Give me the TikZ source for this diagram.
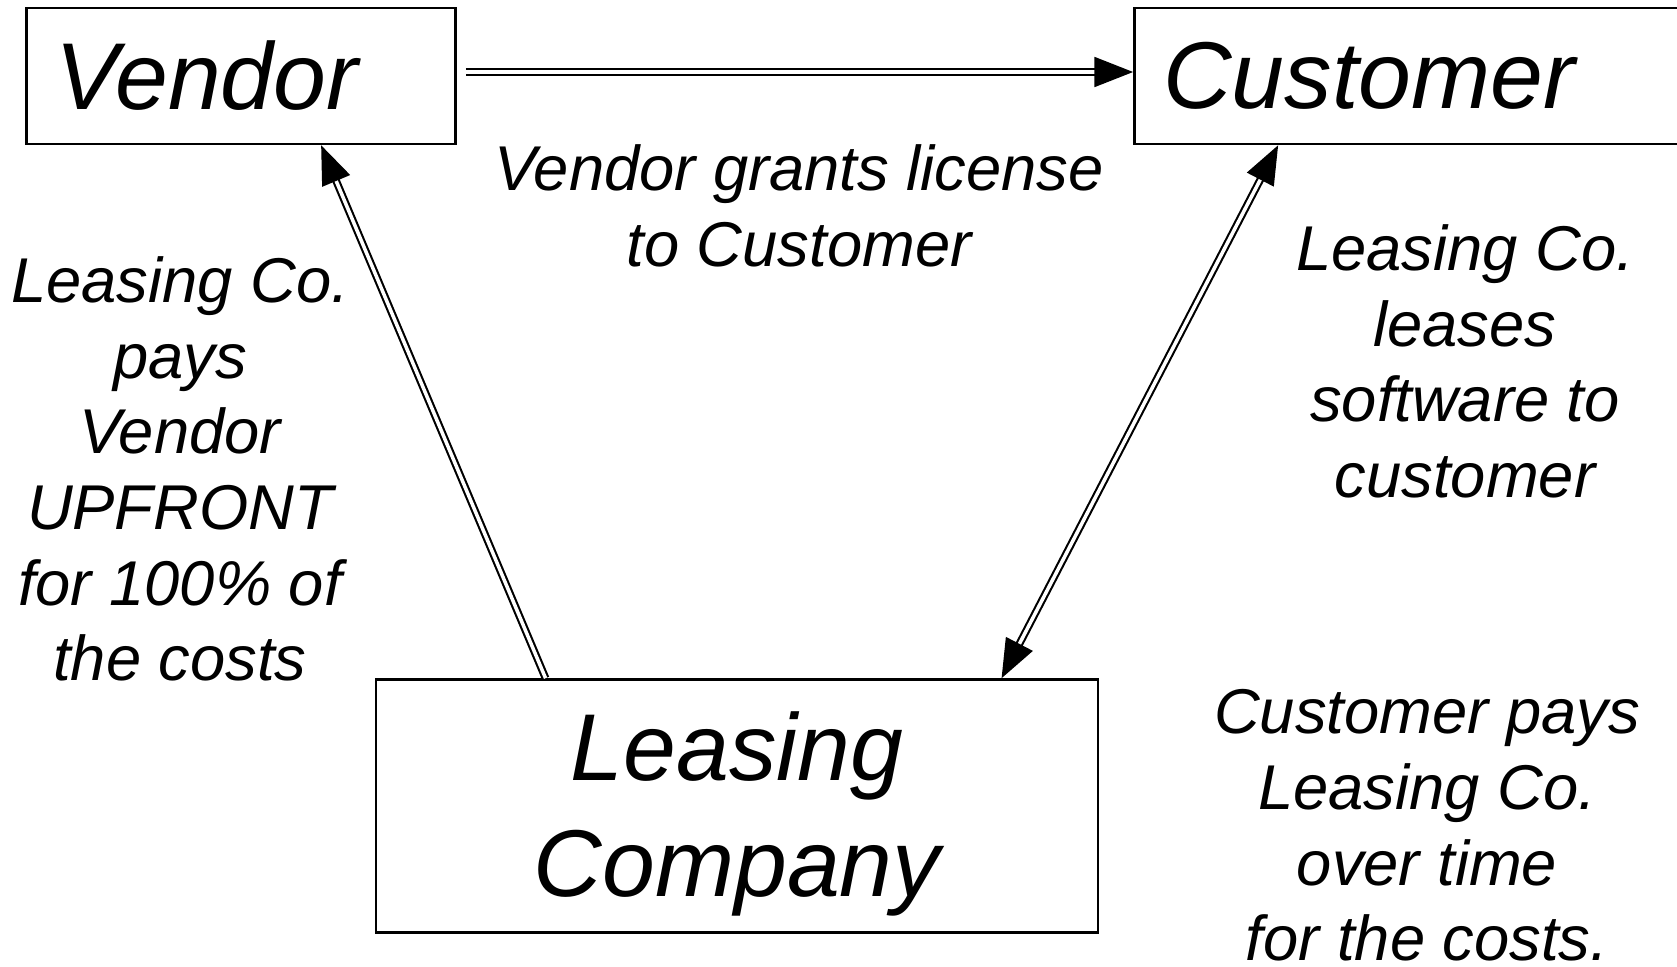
\documentclass[tikz,border=0pt]{standalone}
\usepackage{fontspec}
\setmainfont{Liberation Sans}
\usetikzlibrary{positioning, arrows.meta, calc}

\begin{document}
\begin{tikzpicture}[x=0.01cm, y=-0.01cm,
        font=\itshape,
        box/.style={rectangle, draw, line width=0.7pt, inner ysep=0pt,
            font=\fontsize{27}{33}\selectfont\itshape},
        note/.style={align=center, inner sep=0pt, anchor=north,
            font=\fontsize{18}{21.5}\selectfont\itshape},
        arr/.style={double, double distance=1pt, line width=0.6pt,
            -{Triangle[length=11pt, width=8.5pt]}},
        arrs/.style={arr, {Triangle[length=11pt, width=8.5pt]}-{Triangle[length=11pt, width=8.5pt]}}
    ]
    \useasboundingbox (0,0) rectangle (1677,966);

    \node[box, inner xsep=0.29cm, text width=3.71cm, align=left, minimum height=1.36cm] (vendor) at (241,76) {Vendor};
    \node[box, inner xsep=0.29cm, text width=5.27cm, align=left, minimum height=1.36cm] (customer) at (1427,76) {Customer};
    \node[box, align=center, text height=57pt, minimum width=7.22cm, minimum height=2.53cm] (leasing) at (737,806) {Leasing\\Company};

    \node[note] (grants)   at (799,144)  {Vendor grants license\\to Customer};
    \node[note] (pays)     at (180,256)  {Leasing Co.\\pays\\Vendor\\UPFRONT\\for 100\% of\\the costs};
    \node[note] (leases)   at (1465,224) {Leasing Co.\\leases\\software to\\customer};
    \node[note] (overtime) at (1427,689) {Customer pays\\Leasing Co.\\over time\\for the costs.};

    \draw[arr] ($(vendor.east)+(9,-4)$) -- ($(customer.west)+(0,-4)$);
    \draw[arr] ($(leasing.north west)+(171,0)$) -- ($(vendor.south west)+(296,0)$);
    \draw[arrs] ($(customer.south west)+(145,0)$) -- ($(leasing.north west)+(627,0)$);
\end{tikzpicture}
\end{document}
